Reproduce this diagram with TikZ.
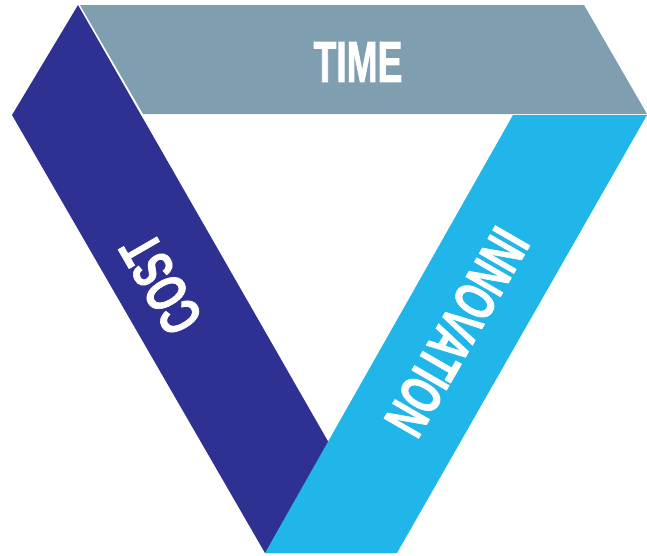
\documentclass[tikz,border=0pt]{standalone}
\usepackage{fontspec}
\newfontfamily\condfont{Liberation Sans}[FakeStretch=0.64,FakeBold=1.2]
\definecolor{costblue}{HTML}{2E3192}
\definecolor{innocyan}{HTML}{21B6E9}
\definecolor{timegray}{HTML}{7F9EB0}
\begin{document}
\begin{tikzpicture}[x=1pt,y=-1pt,
  lbl/.style={text=white,font=\condfont\bfseries\fontsize{58}{58}\selectfont,inner sep=0pt}]
\useasboundingbox (0,0) rectangle (647,555);
\fill[costblue] (12,115) -- (78,5) -- (392,553) -- (265,553) -- cycle;
\fill[innocyan] (513,115) -- (647,115) -- (397,553) -- (265,553) -- cycle;
\fill[timegray] (80,5) -- (584,5) -- (647,114) -- (143,114) -- cycle;
\node[lbl] (time) at (358,62) {TIME};
\node[lbl,rotate=120] (cost) at (161,284) {COST};
\node[lbl,rotate=-120] (inno) at (457,332) {INNOVATION};
\end{tikzpicture}
\end{document}
